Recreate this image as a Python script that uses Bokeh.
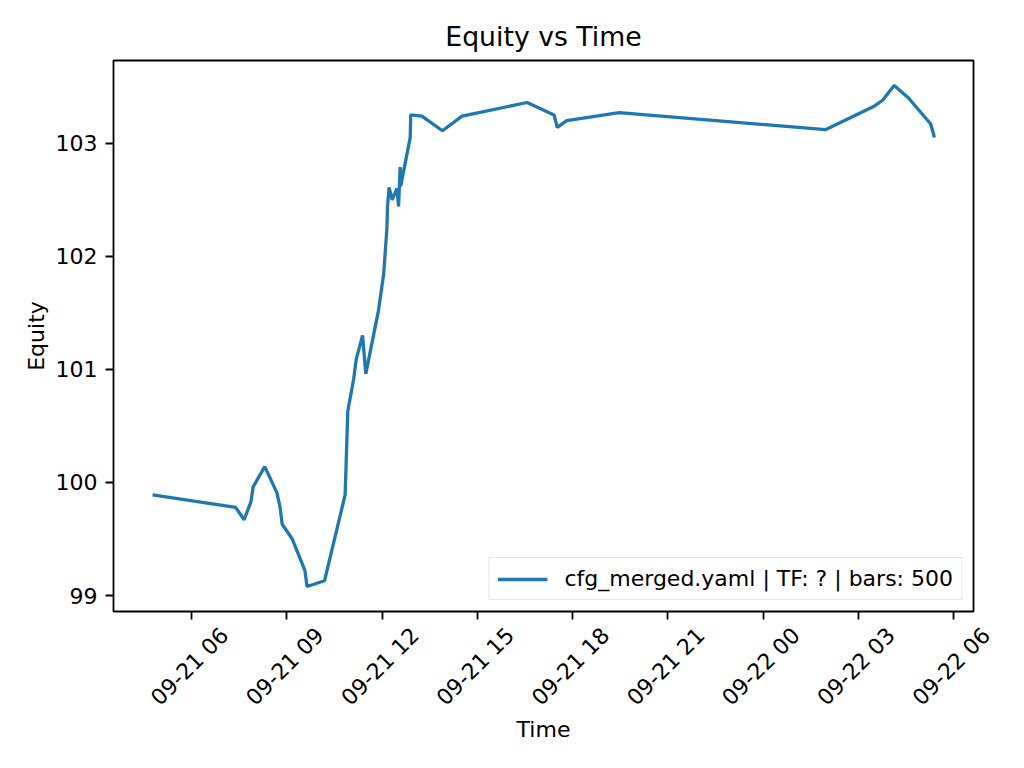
import math
import pandas as pd
from bokeh.plotting import figure
from bokeh.models import (Range1d, SingleIntervalTicker, CustomJSTickFormatter, Legend,
                          LegendItem)
from bokeh.core.properties import value
from bokeh.embed import file_html
from bokeh.resources import INLINE

# ---- data ----
times = [
    "2025-09-21 04:46", "2025-09-21 07:23", "2025-09-21 07:39", "2025-09-21 07:52",
    "2025-09-21 07:56", "2025-09-21 08:18", "2025-09-21 08:41", "2025-09-21 08:47",
    "2025-09-21 08:51", "2025-09-21 09:10", "2025-09-21 09:34", "2025-09-21 09:38",
    "2025-09-21 10:11", "2025-09-21 10:50", "2025-09-21 10:55", "2025-09-21 11:06",
    "2025-09-21 11:11", "2025-09-21 11:23", "2025-09-21 11:29", "2025-09-21 11:53",
    "2025-09-21 12:03", "2025-09-21 12:09", "2025-09-21 12:10", "2025-09-21 12:13",
    "2025-09-21 12:19", "2025-09-21 12:28", "2025-09-21 12:31", "2025-09-21 12:34",
    "2025-09-21 12:35", "2025-09-21 12:53", "2025-09-21 12:54", "2025-09-21 13:15",
    "2025-09-21 13:54", "2025-09-21 14:31", "2025-09-21 16:34", "2025-09-21 17:25",
    "2025-09-21 17:31", "2025-09-21 17:49", "2025-09-21 19:28", "2025-09-22 01:58",
    "2025-09-22 03:31", "2025-09-22 03:46", "2025-09-22 04:08", "2025-09-22 04:35",
    "2025-09-22 05:17", "2025-09-22 05:24",
]
equity = [
    99.89, 99.78, 99.67, 99.83,
    99.96, 100.14, 99.91, 99.78,
    99.63, 99.50, 99.22, 99.08,
    99.13, 99.89, 100.63, 100.91,
    101.09, 101.30, 100.96, 101.52,
    101.85, 102.25, 102.43, 102.61,
    102.50, 102.60, 102.44, 102.79,
    102.62, 103.05, 103.25, 103.24,
    103.11, 103.24, 103.36, 103.25,
    103.14, 103.20, 103.27, 103.12,
    103.33, 103.38, 103.51, 103.40,
    103.17, 103.05,
]
tick_format = "%m-%d %H"          # x tick labels such as "09-21 06"
tick_hours = 3                    # one x tick every 3 hours
legend_text = "cfg_merged.yaml | TF: ? | bars: 500"
title_text = "Equity vs Time"
x_label = "Time"
y_label = "Equity"

EPOCH = pd.Timestamp("1970-01-01")
tms = [(pd.Timestamp(s) - EPOCH).total_seconds() * 1000.0 for s in times]

# matplotlib-like 5% margins
xmin, xmax = min(tms), max(tms)
xpad = (xmax - xmin) * 0.05
x0, x1 = xmin - xpad, xmax + xpad
ymin, ymax = min(equity), max(equity)
ypad = (ymax - ymin) * 0.05
y0, y1 = ymin - ypad, ymax + ypad

# tick positions of the x axis (every tick_hours inside the range) and their labels
interval = tick_hours * 3600 * 1000
first_tick = math.ceil(x0 / interval) * interval
tick_ms = []
t_ = first_tick
while t_ <= x1:
    tick_ms.append(t_)
    t_ += interval
tick_labels = [pd.to_datetime(v, unit="ms").strftime(tick_format) for v in tick_ms]

FONT = "DejaVu Sans"
BLUE = "#1f77b4"
W = 1008
H1, H2 = 625, 127          # main plot, then the strip holding rotated tick labels + x label
BL, BR, BT, BB = 113, 35, 60, 14
frame_w = W - BL - BR

p = figure(
    width=W, height=H1,
    x_axis_type="datetime",
    x_range=Range1d(x0, x1),
    y_range=Range1d(y0, y1),
    output_backend="svg", toolbar_location=None,
    min_border_left=BL, min_border_right=BR,
    min_border_top=BT, min_border_bottom=BB,
)
p.background_fill_color = "white"
p.border_fill_color = "white"
p.outline_line_color = "black"
p.outline_line_width = 1.8
p.grid.grid_line_color = None

p.title.text = title_text
p.title.align = "center"
p.title.text_font = FONT
p.title.text_font_size = "26.7px"
p.title.text_font_style = "normal"
p.title.text_color = "black"
p.title.standoff = 17

line = p.line(tms, equity, line_color=BLUE, line_width=3.3)

for ax in (p.xaxis[0], p.yaxis[0]):
    ax.axis_line_color = None
    ax.major_tick_line_color = "black"
    ax.major_tick_line_width = 1.8
    ax.major_tick_out = 8
    ax.major_tick_in = 0
    ax.minor_tick_line_color = None
    ax.major_label_text_font = FONT
    ax.major_label_text_font_size = "22px"
    ax.major_label_text_color = "black"
    ax.major_label_standoff = 8
    ax.axis_label_text_font = FONT
    ax.axis_label_text_font_size = "22px"
    ax.axis_label_text_font_style = "normal"
    ax.axis_label_text_color = "black"

# x axis of the main plot: tick marks only (labels go in the strip below)
p.xaxis.ticker = SingleIntervalTicker(interval=interval, num_minor_ticks=0)
p.xaxis.formatter = CustomJSTickFormatter(code="return ''")
p.xaxis.major_label_standoff = 0

p.yaxis.ticker = SingleIntervalTicker(interval=1, num_minor_ticks=0)
p.yaxis.axis_label = y_label
p.yaxis.axis_label_standoff = 4

legend = Legend(
    items=[LegendItem(label=legend_text, renderers=[line])],
    location="bottom_right",
    label_text_font=FONT, label_text_font_size="22px", label_text_color="black",
    glyph_width=50, glyph_height=24, label_height=24, label_standoff=17,
    padding=8, margin=11, spacing=0,
    border_line_color="#cccccc", border_line_width=1.8,
    background_fill_color="white", background_fill_alpha=0.8,
)
p.add_layout(legend, "center")

# strip below (separate root, same time scale, full width so no label is clipped)
k = frame_w / (x1 - x0)            # pixels per ms
p2 = figure(
    width=W, height=H2,
    x_range=Range1d(x0 - BL / k, x1 + BR / k),
    y_range=Range1d(0, H2),
    output_backend="svg", toolbar_location=None,
    x_axis_location=None, y_axis_location=None,
    min_border_left=0, min_border_right=0, min_border_top=0, min_border_bottom=0,
)
p2.outline_line_color = None
p2.grid.grid_line_color = None
p2.background_fill_color = "white"
p2.border_fill_color = "white"

lab_y = H2 - 41         # centre of the rotated labels, px below the strip top
p2.text(x=tick_ms, y=[lab_y] * len(tick_ms), text=tick_labels, angle=math.pi / 4,
        x_offset=-2, text_align="center", text_baseline="middle",
        text_font=value(FONT), text_font_size=value("22px"), text_color="black")
p2.text(x=[(x0 + x1) / 2], y=[H2 - 104], text=[x_label],
        text_align="center", text_baseline="middle",
        text_font=value(FONT), text_font_size=value("22px"), text_color="black")

with open("out.html", "w") as f:
    f.write(file_html([p, p2], INLINE))
